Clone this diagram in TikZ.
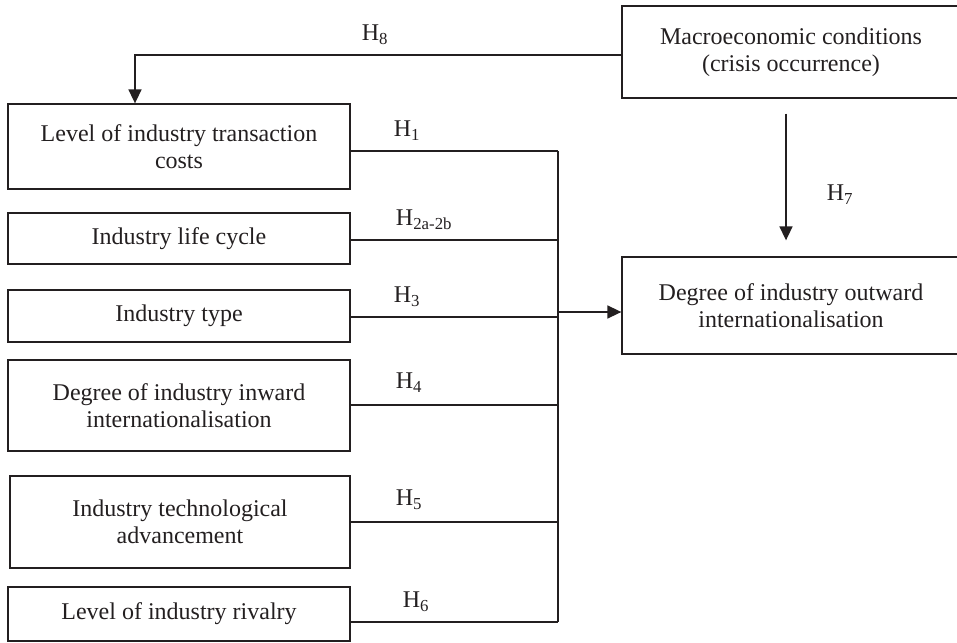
\documentclass[tikz,border=0pt]{standalone}
\usepackage{fontspec}
\setmainfont{Liberation Serif}
\usetikzlibrary{arrows.meta,positioning,calc}
\definecolor{hypInk}{HTML}{231F20}
\tikzset{
  hyp/base/.style={draw=hypInk, line width=1.3pt, align=center,
    inner sep=0pt, text=hypInk, font=\fontsize{24}{27}\selectfont},
  hyp/factor/.style={hyp/base, minimum width=342pt},
  hyp/outcome/.style={hyp/base, minimum width=338pt},
  hyp/line/.style={draw=hypInk, line width=1.6pt},
  hyp/arrow/.style={hyp/line, -{Triangle[length=14pt,width=13pt]}},
  hyp/label/.style={font=\fontsize{24}{27}\selectfont, text=hypInk,
    inner sep=0pt},
}

\begin{document}
\begin{tikzpicture}[x=1pt, y=-1pt,
    factor/.style={hyp/factor},
    outcome/.style={hyp/outcome},
    line/.style={hyp/line},
    arrow/.style={hyp/arrow},
    hlab/.style={hyp/label},
]
\useasboundingbox (0,0) rectangle (957,642);

% explanatory factors on the left
\node[factor, minimum height=85pt] (tc) at (179,146.5) {Level of industry transaction\\costs};
\node[factor, minimum height=51pt] (lc) at (179,238.5) {Industry life cycle};
\node[factor, minimum height=52pt] (ty) at (179,316) {Industry type};
\node[factor, minimum height=91pt] (inw) at (179,405.5) {Degree of industry inward\\internationalisation};
\node[factor, minimum height=92pt, minimum width=340pt] (tech) at (180,522) {Industry technological\\advancement};
\node[factor, minimum height=54pt] (riv) at (179,614) {Level of industry rivalry};

% moderator and outcome on the right
\node[outcome, minimum height=92pt] (macro) at (791,52) {Macroeconomic conditions\\(crisis occurrence)};
\node[outcome, minimum height=97pt] (outward) at (791,305.5) {Degree of industry outward\\internationalisation};

% collecting bus
\coordinate (busTop) at (558,151);
\coordinate (busBot) at (558,622);
\coordinate (busOut) at (558,312);
\draw[line] (busTop) -- (busBot);
\foreach \n/\y in {tc/151,lc/240,ty/317,inw/405,tech/522,riv/622}
  \draw[line] (\n.east |- 0,\y) -- (busTop |- 0,\y);
\draw[arrow] (busOut) -- (outward.west |- busOut);

% H7 and H8
\draw[arrow, shorten <=15pt, shorten >=16pt] ([xshift=-5pt]macro.south) -- ([xshift=-5pt]outward.north);
\coordinate (h8turn) at (135,55);
\draw[arrow] (macro.west |- h8turn) -- (h8turn) -- (h8turn |- tc.north);

\node[hlab] (h8) at (375,35) {H\textsubscript{8}};
\node[hlab] (h1) at (407,131) {H\textsubscript{1}};
\node[hlab] (h2) at (424,220) {H\textsubscript{2a-2b}};
\node[hlab] (h3) at (407,297) {H\textsubscript{3}};
\node[hlab] (h4) at (409,383) {H\textsubscript{4}};
\node[hlab] (h5) at (409,500) {H\textsubscript{5}};
\node[hlab] (h6) at (416,602) {H\textsubscript{6}};
\node[hlab] (h7) at (840,195) {H\textsubscript{7}};
\end{tikzpicture}
\end{document}
